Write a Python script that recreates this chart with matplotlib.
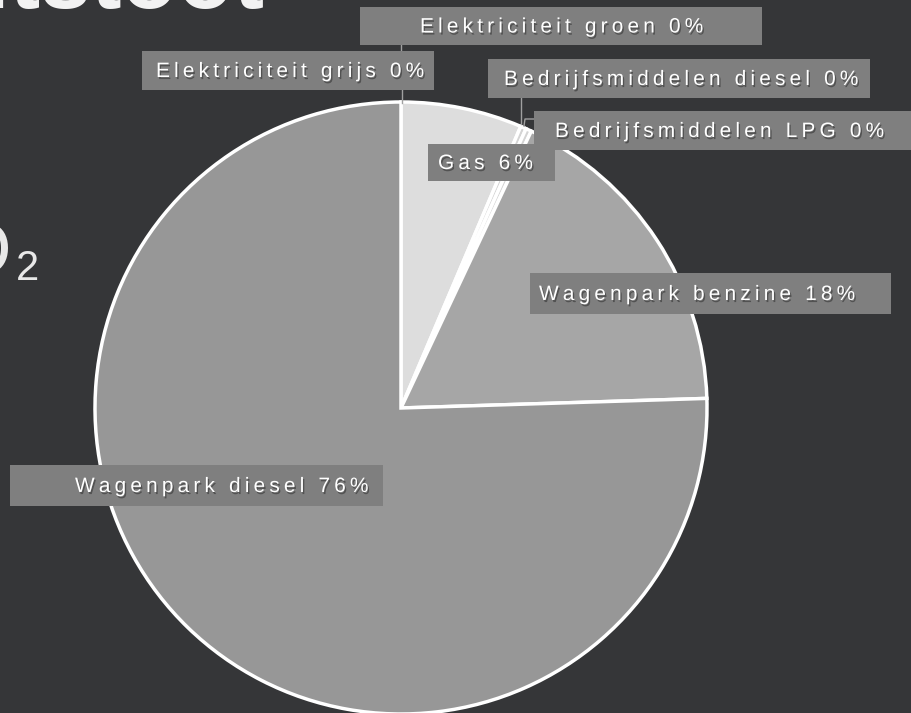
import matplotlib
matplotlib.use("Agg")
import matplotlib.pyplot as plt
import matplotlib.patheffects as pe
from matplotlib.patches import Rectangle

# slice data, clockwise from 12 o'clock
names = ["Elektriciteit grijs", "Elektriciteit groen", "Gas",
         "Bedrijfsmiddelen diesel", "Bedrijfsmiddelen LPG",
         "Wagenpark benzine", "Wagenpark diesel"]
values = [0.0, 0.0, 6.4, 0.3, 0.3, 17.5, 75.5]
pct_labels = ["0%", "0%", "6%", "0%", "0%", "18%", "76%"]
slice_colors = ["#dddddd", "#dddddd", "#dddddd", "#d4d4d4", "#d4d4d4",
                "#a6a6a6", "#979797"]

BG = "#353638"
BOX = "#7f7f7f"
W, H = 912, 713
cx, cy, r = 401, 408, 306

# label boxes in pixel coords: x0, x1, y0, y1, text left x
boxes = {
    "Elektriciteit grijs": (142, 434, 51, 90, 156),
    "Elektriciteit groen": (360, 762, 7, 45, 420),
    "Gas": (428, 555, 144, 181, 438),
    "Bedrijfsmiddelen diesel": (488, 870, 59, 98, 504),
    "Bedrijfsmiddelen LPG": (534, 915, 111, 150, 555),
    "Wagenpark benzine": (530, 891, 273, 314, 539),
    "Wagenpark diesel": (10, 383, 465, 506, 75),
}
leaders = [
    [(402, 90), (402, 103)],
    [(401, 45), (401, 51)],
    [(521, 98), (521, 124)],
    [(524, 126), (525, 119), (534, 119)],
]


def spaced(s):
    return "\u2009".join(s)


fig = plt.figure(figsize=(W / 100, H / 100), dpi=100, facecolor=BG)

ax = fig.add_axes([(cx - r) / W, (H - cy - r) / H, 2 * r / W, 2 * r / H])
wedges, _ = ax.pie(values, colors=slice_colors, startangle=90, counterclock=False,
                   wedgeprops=dict(edgecolor="white", linewidth=2.5, clip_on=False))
ax.set_xlim(-1, 1)
ax.set_ylim(-1, 1)
ax.set_axis_off()

ov = fig.add_axes([0, 0, 1, 1])
ov.set_xlim(0, W)
ov.set_ylim(H, 0)
ov.set_axis_off()
ov.patch.set_alpha(0)

# cut-off slide title and subtitle behind the chart (pixel coords, baseline)
ov.text(265, 8, "Uitstoot", color="#f2f2f2", fontsize=66, fontweight="bold",
        family="Liberation Sans", ha="right", va="baseline", zorder=1)
ov.text(12, 273, "CO", color="#e8e8e8", fontsize=53,
        family="Liberation Sans", ha="right", va="baseline", zorder=1)
ov.text(16, 280, "2", color="#e8e8e8", fontsize=30,
        family="Liberation Sans", ha="left", va="baseline", zorder=1)

for pts in leaders:
    xs = [p[0] for p in pts]
    ys = [p[1] for p in pts]
    ov.plot(xs, ys, color="#a0a0a0", lw=1)

for name, pct in zip(names, pct_labels):
    x0, x1, y0, y1, tx = boxes[name]
    ov.add_patch(Rectangle((x0, y0), x1 - x0, y1 - y0, facecolor=BOX,
                           edgecolor="none", zorder=3))
    t = ov.text(tx, (y0 + y1) / 2 + 1, spaced(name + " " + pct), color="white",
                fontsize=15.0, family=["Liberation Sans", "DejaVu Sans"],
                ha="left", va="center", zorder=4)
    t.set_path_effects([pe.withSimplePatchShadow(offset=(1, -1.5),
                                                 shadow_rgbFace="black", alpha=0.35)])

fig.savefig("out.png", dpi=100, facecolor=BG)
